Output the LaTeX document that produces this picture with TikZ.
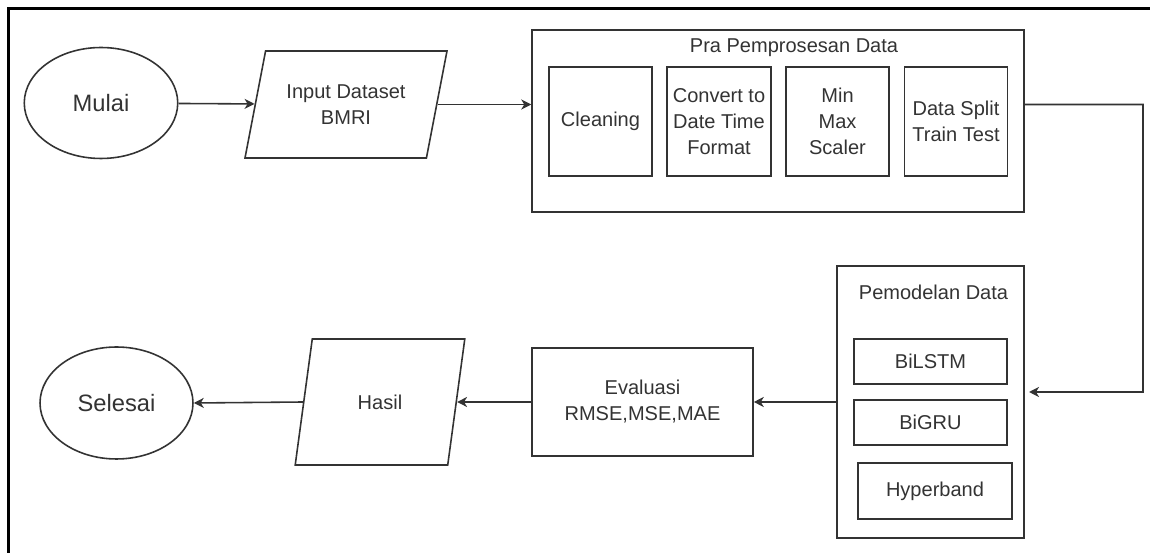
\documentclass[tikz,border=0pt]{standalone}
\usepackage{fontspec}
\setmainfont{Liberation Sans}
\usetikzlibrary{shapes.geometric,arrows.meta}

\begin{document}
\begin{tikzpicture}[x=0.02cm,y=-0.02cm,
        line width=0.9pt, draw=black!80,
        every node/.style={text=black!80, font=\fontsize{11.4}{14.8}\selectfont, align=center},
        terminal/.style={draw, ellipse, minimum width=3.07cm, minimum height=2.22cm, font=\fontsize{13.5}{16}\selectfont},
        iobox/.style={draw, trapezium, trapezium stretches=true},
        procbox/.style={draw, rectangle},
        groupbox/.style={draw, rectangle},
        subbox/.style={draw, rectangle, minimum width=2.06cm, minimum height=2.18cm},
        modelbox/.style={draw, rectangle, minimum width=3.06cm, minimum height=0.9cm},
        flow/.style={-{Stealth[length=0.2cm, width=0.2cm, inset=0.06cm]}}]
        \useasboundingbox (0,0) rectangle (1150,553);
        \draw[black, line width=1.7pt] (8.5,553) -- (8.5,8.5) -- (1150,8.5);
        % top row
        \node[terminal] (mulai) at (101,103) {Mulai};
        \node[iobox, trapezium left angle=72, trapezium right angle=108,
            minimum width=4.08cm, minimum height=2.14cm] (input) at (346,104.5) {Input Dataset\\BMRI};
        \node[groupbox, minimum width=9.84cm, minimum height=3.64cm] (pra) at (778,121) {};
        \node (pratitle) at (794,48) {Pra Pemprosesan Data};
        \node[subbox] (cleaning) at (600.5,121.5) {Cleaning};
        \node[subbox] (convert) at (719,121.5) {Convert to\\Date Time\\Format};
        \node[subbox] (minmax) at (837.5,121.5) {Min\\Max\\Scaler};
        \node[subbox] (split) at (956,121.5) {Data Split\\Train Test};
        % bottom row
        \node[groupbox, minimum width=3.74cm, minimum height=5.44cm] (model) at (930.5,402) {};
        \node (modeltitle) at (933.5,292) {Pemodelan Data};
        \node[modelbox] (bilstm) at (930.5,361.5) {BiLSTM};
        \node[modelbox] (bigru) at (930.5,422.5) {BiGRU};
        \node[modelbox, minimum width=3.08cm, minimum height=1.12cm] (hyper) at (935,491) {Hyperband};
        \node[procbox, minimum width=4.42cm, minimum height=2.16cm] (eval) at (642.5,402) {Evaluasi\\RMSE,MSE,MAE};
        \node[iobox, trapezium left angle=75, trapezium right angle=105,
            minimum width=3.4cm, minimum height=2.52cm] (hasil) at (380,402) {Hasil};
        \node[terminal, minimum width=3.06cm, minimum height=2.24cm] (selesai) at (116.5,403) {Selesai};
        \coordinate (turn) at (1143,104.5);
        \coordinate (modelin) at (1029,392);
        % connectors
        \draw[flow] (mulai) -- (input);
        \draw[flow] (input.east) -- (input.east -| pra.west);
        \draw[flow] (input.east -| pra.east) -- (turn) |- (modelin);
        \draw[flow] (model.west) -- (eval.east);
        \draw[flow] (eval.west) -- (hasil.east);
        \draw[flow] (hasil.west) -- (selesai.east);
\end{tikzpicture}
\end{document}
